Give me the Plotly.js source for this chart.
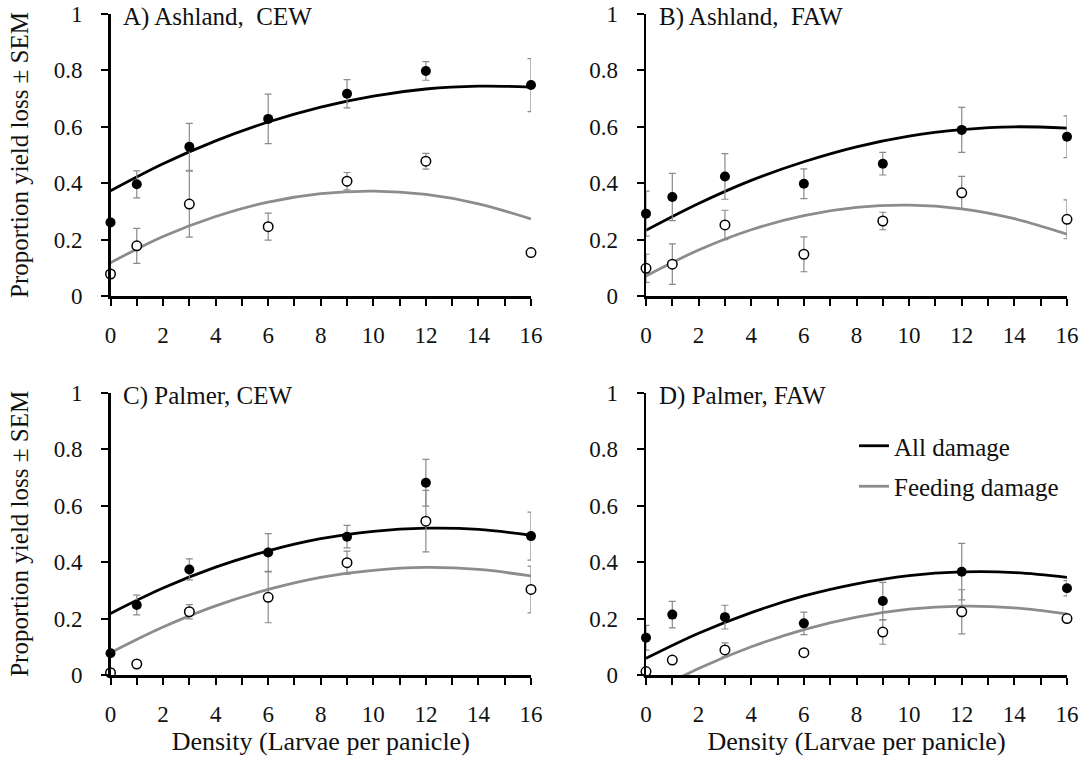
<!DOCTYPE html>
<html>
<head>
<meta charset="utf-8">
<script src="https://cdn.plot.ly/plotly-3.0.1.min.js"></script>
<style>
html,body{margin:0;padding:0;background:#fff;}
#chart{width:1087px;height:761px;}
#chart svg text{font-family:'Liberation Serif','Times New Roman',serif !important;}
</style>
</head>
<body>
<div id="chart"></div>
<script>
// ---- data ----
const densities = [0, 1, 3, 6, 9, 12, 16];
const fitX = [0, 2, 4, 6, 8, 10, 12, 14, 16];

const panelLabels = ["A) Ashland,  CEW", "B) Ashland,  FAW", "C) Palmer, CEW", "D) Palmer, FAW"];
const seriesNames = ["All damage", "Feeding damage"];

// A) Ashland, CEW
const aAll = [0.261, 0.396, 0.529, 0.628, 0.717, 0.798, 0.748];
const aAllSem = [0.0, 0.048, 0.083, 0.088, 0.050, 0.033, 0.094];
const aFeed = [0.078, 0.178, 0.326, 0.246, 0.407, 0.478, 0.154];
const aFeedSem = [0.015, 0.062, 0.117, 0.048, 0.031, 0.028, 0.008];
const aAllFit = [0.373, 0.469, 0.550, 0.617, 0.670, 0.709, 0.734, 0.744, 0.741];
const aFeedFit = [0.118, 0.211, 0.282, 0.333, 0.363, 0.372, 0.360, 0.327, 0.273];

// B) Ashland, FAW
const bAll = [0.292, 0.351, 0.424, 0.398, 0.469, 0.589, 0.565];
const bAllSem = [0.080, 0.084, 0.081, 0.053, 0.040, 0.080, 0.074];
const bFeed = [0.098, 0.113, 0.252, 0.148, 0.266, 0.366, 0.272];
const bFeedSem = [0.050, 0.072, 0.052, 0.062, 0.031, 0.058, 0.069];
const bAllFit = [0.233, 0.328, 0.410, 0.476, 0.529, 0.567, 0.590, 0.600, 0.595];
const bFeedFit = [0.071, 0.163, 0.235, 0.285, 0.314, 0.322, 0.309, 0.274, 0.219];

// C) Palmer, CEW
const cAll = [0.077, 0.248, 0.374, 0.434, 0.490, 0.681, 0.492];
const cAllSem = [0.005, 0.035, 0.037, 0.067, 0.040, 0.083, 0.085];
const cFeed = [0.008, 0.039, 0.224, 0.275, 0.398, 0.545, 0.303];
const cFeedSem = [0.005, 0.005, 0.025, 0.090, 0.041, 0.109, 0.083];
const cAllFit = [0.218, 0.308, 0.382, 0.440, 0.483, 0.509, 0.520, 0.516, 0.495];
const cFeedFit = [0.079, 0.170, 0.245, 0.303, 0.346, 0.371, 0.381, 0.374, 0.351];

// D) Palmer, FAW
const dAll = [0.132, 0.214, 0.205, 0.183, 0.262, 0.366, 0.307];
const dAllSem = [0.044, 0.047, 0.042, 0.040, 0.066, 0.100, 0.027];
const dFeed = [0.012, 0.053, 0.089, 0.079, 0.152, 0.224, 0.200];
const dFeedSem = [0.005, 0.005, 0.025, 0.005, 0.043, 0.078, 0.010];
const dAllFit = [0.059, 0.148, 0.221, 0.280, 0.323, 0.352, 0.365, 0.363, 0.346];
const dFeedFit = [-0.071, 0.023, 0.100, 0.161, 0.205, 0.233, 0.244, 0.238, 0.216];

// tick labels
const xTickVals = [0,1,2,3,4,5,6,7,8,9,10,11,12,13,14,15,16];
const xTickText = ["0","","2","","4","","6","","8","","10","","12","","14","","16"];
const yTickVals = [0, 0.2, 0.4, 0.6, 0.8, 1];
const yTickText = ["0", "0.2", "0.4", "0.6", "0.8", "1"];

const xTitle = "Density (Larvae per panicle)";
const yTitle = "Proportion yield loss \u00b1 SEM";

// ---- styling ----
const FONT = "Liberation Serif";
const BLACK = "#000000";
const GRAY = "#8c8c8c";
const ERR = "#8a8a8a";
const TXT = "#111111";

const panels = [
  {all: aAll, allSem: aAllSem, feed: aFeed, feedSem: aFeedSem, allFit: aAllFit, feedFit: aFeedFit},
  {all: bAll, allSem: bAllSem, feed: bFeed, feedSem: bFeedSem, allFit: bAllFit, feedFit: bFeedFit},
  {all: cAll, allSem: cAllSem, feed: cFeed, feedSem: cFeedSem, allFit: cAllFit, feedFit: cFeedFit},
  {all: dAll, allSem: dAllSem, feed: dFeed, feedSem: dFeedSem, allFit: dAllFit, feedFit: dFeedFit}
];

const W = 1087, H = 761;
// pixel boxes of each plot area [left, right, top(y=1), bottom(y=0)]
const boxes = [
  [110.5, 531, 14, 296],
  [646, 1067, 14, 296],
  [110.5, 531, 392.7, 675],
  [646, 1067, 392.7, 675]
];

const traces = [];
panels.forEach((p, i) => {
  const xa = i === 0 ? "x" : "x" + (i + 1);
  const ya = i === 0 ? "y" : "y" + (i + 1);
  traces.push({
    x: fitX, y: p.allFit, xaxis: xa, yaxis: ya, mode: "lines", type: "scatter",
    line: {color: BLACK, width: 2.8, shape: "spline"},
    name: seriesNames[0], legendgroup: "all", showlegend: i === 0, hoverinfo: "skip"
  });
  traces.push({
    x: fitX, y: p.feedFit, xaxis: xa, yaxis: ya, mode: "lines", type: "scatter",
    line: {color: GRAY, width: 2.8, shape: "spline"},
    name: seriesNames[1], legendgroup: "feed", showlegend: i === 0, hoverinfo: "skip"
  });
  traces.push({
    x: densities, y: p.feed, xaxis: xa, yaxis: ya, mode: "markers", type: "scatter",
    error_y: {type: "data", array: p.feedSem, visible: true, color: ERR, thickness: 1.2, width: 3.5},
    marker: {color: "#ffffff", size: 9.5, line: {color: BLACK, width: 1.5}},
    showlegend: false, cliponaxis: false, name: seriesNames[1] + " obs"
  });
  traces.push({
    x: densities, y: p.all, xaxis: xa, yaxis: ya, mode: "markers", type: "scatter",
    error_y: {type: "data", array: p.allSem, visible: true, color: ERR, thickness: 1.2, width: 3.5},
    marker: {color: BLACK, size: 10, line: {color: BLACK, width: 0}},
    showlegend: false, cliponaxis: false, name: seriesNames[0] + " obs"
  });
});

const layout = {
  width: W, height: H,
  margin: {l: 0, r: 0, t: 0, b: 0},
  paper_bgcolor: "#ffffff", plot_bgcolor: "rgba(0,0,0,0)",
  font: {family: FONT, size: 23, color: TXT},
  showlegend: true,
  legend: {
    x: 854 / W, y: 1 - 423 / H, xanchor: "left", yanchor: "top",
    bgcolor: "rgba(0,0,0,0)", font: {family: FONT, size: 25, color: TXT},
    tracegroupgap: 5, traceorder: "grouped", itemwidth: 30
  },
  annotations: []
};

boxes.forEach((b, i) => {
  const sfx = i === 0 ? "" : String(i + 1);
  const xdom = [b[0] / W, b[1] / W];
  const ydom = [1 - b[3] / H, 1 - b[2] / H];
  layout["xaxis" + sfx] = {
    domain: xdom, anchor: "y" + sfx, range: [0, 16], fixedrange: true,
    showline: true, linecolor: BLACK, linewidth: 2.5, mirror: false,
    showgrid: false, zeroline: false,
    ticks: "outside", ticklen: 7, tickwidth: 2, tickcolor: BLACK,
    tickmode: "array", tickvals: xTickVals, ticktext: xTickText,
    tickfont: {family: FONT, size: 23, color: TXT},
    ticklabelstandoff: 10,
    automargin: false,
    title: i >= 2 ? {text: xTitle, font: {family: FONT, size: 26, color: TXT}, standoff: 6} : {text: ""}
  };
  layout["yaxis" + sfx] = {
    domain: ydom, anchor: "x" + sfx, range: [0, 1], fixedrange: true,
    showline: true, linecolor: BLACK, linewidth: 2.5,
    showgrid: false, zeroline: false,
    ticks: "outside", ticklen: 7, tickwidth: 2, tickcolor: BLACK,
    tickmode: "array", tickvals: yTickVals, ticktext: yTickText,
    tickfont: {family: FONT, size: 23, color: TXT},
    ticklabelstandoff: 14,
    automargin: false,
    title: (i % 2 === 0) ? {text: yTitle, font: {family: FONT, size: 25, color: TXT}, standoff: 18} : {text: ""}
  };
  layout.annotations.push({
    text: panelLabels[i], xref: "x" + sfx + " domain", yref: "y" + sfx + " domain",
    x: 0.025, y: 0.99, xanchor: "left", yanchor: "middle", showarrow: false,
    font: {family: FONT, size: 25, color: TXT}
  });
});

Plotly.newPlot("chart", traces, layout, {displayModeBar: false, staticPlot: true});
</script>
</body>
</html>
